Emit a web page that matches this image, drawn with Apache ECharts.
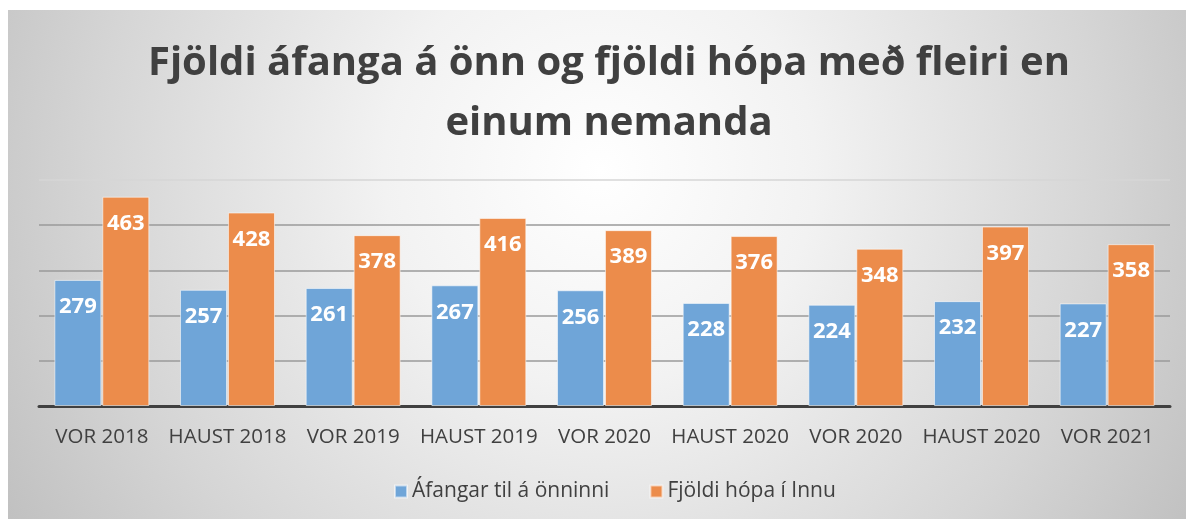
<!DOCTYPE html>
<html>
<head>
<meta charset="utf-8">
<script src="https://cdn.jsdelivr.net/npm/echarts@6/dist/echarts.min.js"></script>
<style>
  html, body { margin: 0; padding: 0; background: #fff; }
  #chart { width: 1186px; height: 519px; }
</style>
</head>
<body>
<div id="chart"></div>
<script>
const categories = ['VOR 2018', 'HAUST 2018', 'VOR 2019', 'HAUST 2019', 'VOR 2020', 'HAUST 2020', 'VOR 2020', 'HAUST 2020', 'VOR 2021']
const afangar = [279, 257, 261, 267, 256, 228, 224, 232, 227]
const hopar = [463, 428, 378, 416, 389, 376, 348, 397, 358]
const seriesNames = ['Áfangar til á önninni', 'Fjöldi hópa í Innu']

const font = '"Open Sans", sans-serif'
const chart = echarts.init(document.getElementById('chart'))

// merki inni í súlunum
function barLabel () {
  return {
    show: true,
    position: 'insideTop',
    distance: 16,
    color: '#fff',
    fontSize: 22,
    fontWeight: 'bold',
    fontFamily: font
  }
}

chart.setOption({
  animation: false,
  graphic: [{
    type: 'rect',
    z: -10,
    shape: { x: 8, y: 10, width: 1178, height: 509 },
    style: {
      fill: new echarts.graphic.RadialGradient(600, 170, 720, [
        { offset: 0, color: '#ffffff' },
        { offset: 0.3, color: '#f2f2f2' },
        { offset: 0.7, color: '#d5d5d5' },
        { offset: 1, color: '#bdbdbd' }
      ], true)
    }
  }],
  title: {
    text: 'Fjöldi áfanga á önn og fjöldi hópa með fleiri en\neinum nemanda',
    left: 604,
    top: 29,
    textAlign: 'center',
    textStyle: {
      fontFamily: font,
      fontSize: 40,
      fontWeight: 'bold',
      color: '#404040',
      lineHeight: 60
    }
  },
  legend: {
    bottom: 12,
    left: 389,
    icon: 'rect',
    itemWidth: 12,
    itemHeight: 12,
    itemGap: 40,
    textStyle: { fontFamily: font, fontSize: 21, color: '#404040' },
    data: seriesNames
  },
  grid: { left: 39, right: 16, top: 180, bottom: 113 },
  xAxis: {
    type: 'category',
    data: categories,
    axisTick: { show: false },
    axisLine: { lineStyle: { color: '#404040', width: 3 } },
    axisLabel: { interval: 0, fontFamily: font, fontSize: 20.5, color: '#404040', margin: 21 }
  },
  yAxis: {
    type: 'value',
    min: 0,
    max: 500,
    interval: 100,
    axisLabel: { show: false },
    axisLine: { show: false },
    axisTick: { show: false },
    splitLine: {
      lineStyle: {
        color: ['#9a9a9a', '#9a9a9a', '#9a9a9a', '#9a9a9a', '#9a9a9a', '#d6d6d6'],
        width: 1.5
      }
    }
  },
  series: [
    {
      name: seriesNames[0],
      type: 'bar',
      data: afangar,
      barWidth: 47,
      barGap: '2%',
      itemStyle: { color: '#6fa5d8', borderColor: 'rgba(255,255,255,0.55)', borderWidth: 1 },
      label: barLabel()
    },
    {
      name: seriesNames[1],
      type: 'bar',
      data: hopar,
      barWidth: 47,
      itemStyle: { color: '#ec8c4b', borderColor: 'rgba(255,255,255,0.55)', borderWidth: 1 },
      label: barLabel()
    }
  ]
})
</script>
</body>
</html>
